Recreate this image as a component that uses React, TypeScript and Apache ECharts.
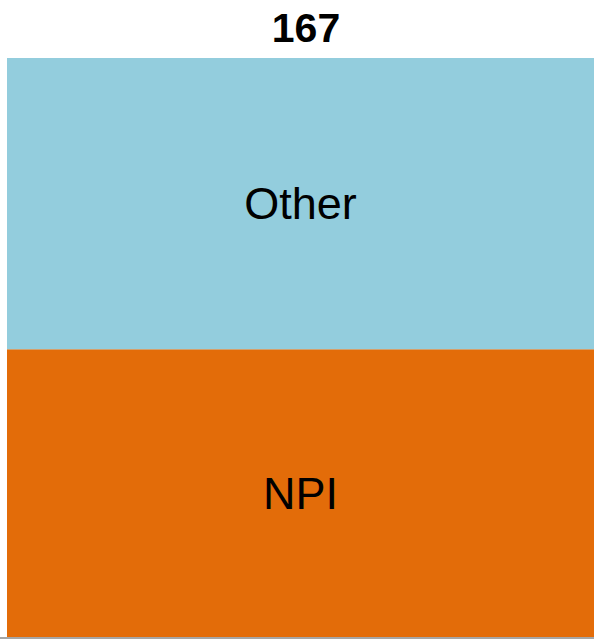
import React, { useEffect, useRef } from "react";
import * as echarts from "echarts";

const categories = ["Total"];
const npiValues = [83];
const otherValues = [84];
const seriesNames = ["NPI", "Other"];

export default function App() {
  const ref = useRef<HTMLDivElement>(null);
  useEffect(() => {
    if (!ref.current) return;
    const chart = echarts.init(ref.current, null, { renderer: "svg" });
    const total = npiValues[0] + otherValues[0];
    const labelStyle = {
      show: true,
      position: "inside" as const,
      formatter: "{a}",
      color: "#000",
      fontSize: 45,
      fontFamily: "Liberation Sans, Arial, sans-serif",
    };
    chart.setOption({
      animation: false,
      backgroundColor: "#fff",
      graphic: [
        {
          type: "text",
          x: 306,
          y: 28,
          style: {
            text: String(total),
            align: "center",
            verticalAlign: "middle",
            fontSize: 41,
            fontWeight: "bold",
            fill: "#000",
            fontFamily: "Liberation Sans, Arial, sans-serif",
          },
        },
        {
          type: "rect",
          shape: { x: 0, y: 637, width: 594, height: 2 },
          style: { fill: "#a6a6a6" },
          silent: true,
        },
      ],
      grid: { left: 7, right: 0, top: 58, bottom: 2 },
      xAxis: {
        type: "category",
        data: categories,
        axisLine: { show: false },
        axisTick: { show: false },
        axisLabel: { show: false },
      },
      yAxis: {
        type: "value",
        min: 0,
        max: total,
        show: false,
        splitLine: { show: false },
      },
      series: [
        {
          name: seriesNames[0],
          type: "bar",
          stack: "total",
          data: npiValues,
          barWidth: "100%",
          itemStyle: { color: "#E36C09" },
          label: labelStyle,
        },
        {
          name: seriesNames[1],
          type: "bar",
          stack: "total",
          data: otherValues,
          barWidth: "100%",
          itemStyle: { color: "#93CDDD" },
          label: labelStyle,
        },
      ],
    });
    return () => chart.dispose();
  }, []);
  return (
    <div
      ref={ref}
      style={{ position: "fixed", left: 0, top: 0, width: 594, height: 639 }}
    />
  );
}
